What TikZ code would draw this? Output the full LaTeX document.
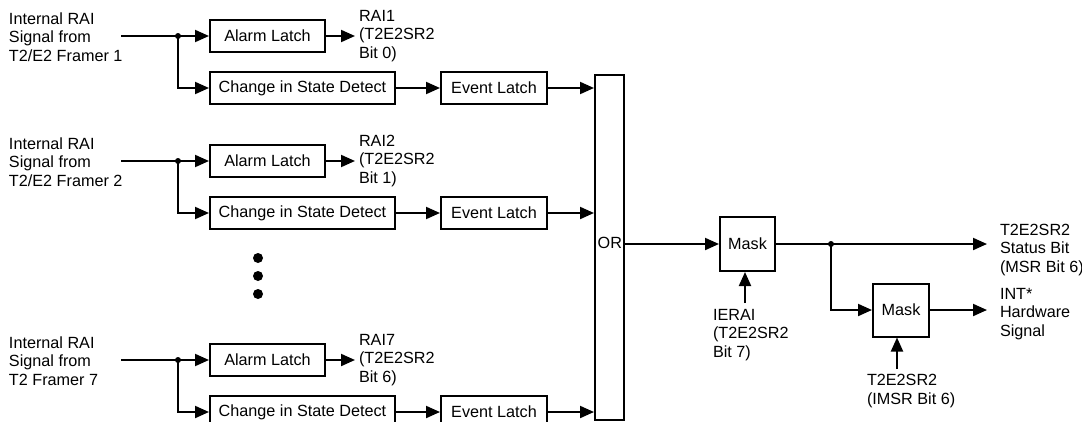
\documentclass[tikz,border=0pt]{standalone}
\usepackage{fontspec}
\setmainfont{Liberation Sans}
\usetikzlibrary{arrows.meta}

\begin{document}
\begin{tikzpicture}[x=1pt,y=-1pt,line width=2pt,
  >={Triangle[length=14pt,width=12pt]},
  font=\fontsize{16.2}{18.5}\selectfont,
  blk/.style={draw, minimum height=32pt, inner sep=0pt},
  txt/.style={anchor=west, align=left, inner sep=0pt}]
\useasboundingbox (0,0) rectangle (1082,421);

% framer 1
\node[txt] (in1) at (8,37) {Internal RAI\\Signal from\\T2/E2 Framer 1};
\coordinate (s1) at (121,36);
\coordinate (j1) at (178,36);
\node[blk, minimum width=115pt] (al1) at (267.5,36) {Alarm Latch};
\node[txt] (rai1) at (358,36) {RAI1\\(T2E2SR2\\Bit 0)};
\node[blk, minimum width=185pt] (cs1) at (302.5,88) {Change in State Detect};
\node[blk, minimum width=106pt] (ev1) at (494,88) {Event Latch};

% framer 2
\node[txt] (in2) at (8,162) {Internal RAI\\Signal from\\T2/E2 Framer 2};
\coordinate (s2) at (121,161);
\coordinate (j2) at (178,161);
\node[blk, minimum width=115pt] (al2) at (267.5,161) {Alarm Latch};
\node[txt] (rai2) at (358,161) {RAI2\\(T2E2SR2\\Bit 1)};
\node[blk, minimum width=185pt] (cs2) at (302.5,213) {Change in State Detect};
\node[blk, minimum width=106pt] (ev2) at (494,213) {Event Latch};

% framer 7
\node[txt] (in7) at (8,361) {Internal RAI\\Signal from\\T2 Framer 7};
\coordinate (s7) at (121,360);
\coordinate (j7) at (178,360);
\node[blk, minimum width=115pt] (al7) at (267.5,360) {Alarm Latch};
\node[txt] (rai7) at (358,360) {RAI7\\(T2E2SR2\\Bit 6)};
\node[blk, minimum width=185pt] (cs7) at (302.5,412) {Change in State Detect};
\node[blk, minimum width=106pt] (ev7) at (494,412) {Event Latch};

\fill (258,258) circle (5pt);
\fill (258,276) circle (5pt);
\fill (258,294) circle (5pt);

% or gate and masks
\node[draw, minimum width=29pt, minimum height=345pt, inner sep=0pt] (orgate) at (609.5,247.5) {};
\node[anchor=east, inner sep=0pt] (ortxt) at (623,243) {OR};
\node[blk, minimum width=55pt, minimum height=54pt] (msk1) at (747.5,244) {Mask};
\node[txt] (ierai) at (712,335) {IERAI\\(T2E2SR2\\Bit 7)};
\coordinate (c1) at (745,303);
\coordinate (j4) at (831,244);
\node[txt] (stat) at (999,250) {T2E2SR2\\Status Bit\\(MSR Bit 6)};
\node[blk, minimum width=56pt, minimum height=53pt] (msk2) at (901,310) {Mask};
\node[txt] (int) at (999,314) {INT*\\Hardware\\Signal};
\node[txt] (imsr) at (866,391) {T2E2SR2\\(IMSR Bit 6)};
\coordinate (c2) at (897,369);

\draw (s1) -- (j1);
\draw[->] (j1) -- (al1.west);
\draw[->] (j1) |- (cs1.west);
\draw[->, shorten >=3pt] (al1.east) -- (al1.east -| rai1.west);
\draw[->] (cs1) -- (ev1);
\draw[->] (ev1.east) -- (ev1.east -| orgate.west);
\fill (j1) circle (3pt);

\draw (s2) -- (j2);
\draw[->] (j2) -- (al2.west);
\draw[->] (j2) |- (cs2.west);
\draw[->, shorten >=3pt] (al2.east) -- (al2.east -| rai2.west);
\draw[->] (cs2) -- (ev2);
\draw[->] (ev2.east) -- (ev2.east -| orgate.west);
\fill (j2) circle (3pt);

\draw (s7) -- (j7);
\draw[->] (j7) -- (al7.west);
\draw[->] (j7) |- (cs7.west);
\draw[->, shorten >=3pt] (al7.east) -- (al7.east -| rai7.west);
\draw[->] (cs7) -- (ev7);
\draw[->] (ev7.east) -- (ev7.east -| orgate.west);
\fill (j7) circle (3pt);

\draw[->] (orgate.east |- msk1.west) -- (msk1.west);
\draw[->] (c1) -- (c1 |- msk1.south);
\draw[->, shorten >=12pt] (msk1.east) -- (msk1.east -| stat.west);
\draw[->] (j4) |- (msk2.west);
\fill (j4) circle (3pt);
\draw[->, shorten >=12pt] (msk2.east) -- (msk2.east -| int.west);
\draw[->] (c2) -- (c2 |- msk2.south);
\end{tikzpicture}
\end{document}
